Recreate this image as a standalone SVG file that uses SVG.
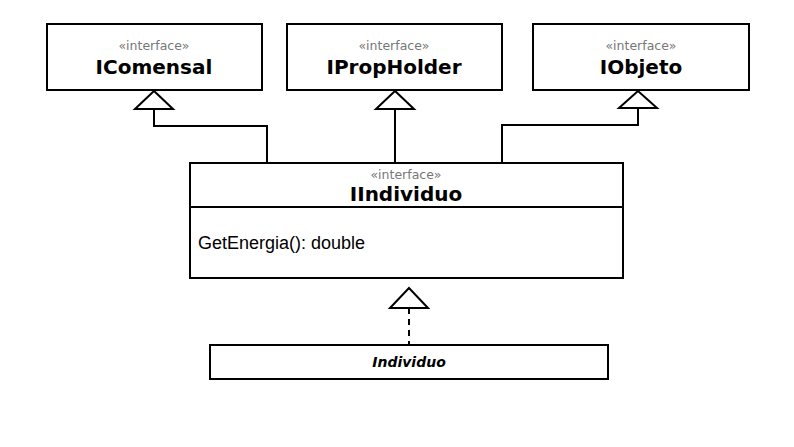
<svg xmlns="http://www.w3.org/2000/svg" width="794" height="447" viewBox="0 0 794 447">
<style>
.box{fill:#fff;stroke:#000;stroke-width:2}
.st{font-family:"DejaVu Sans",Verdana,sans-serif;font-size:12.5px;fill:#777;text-anchor:middle}
.nm{font-family:"DejaVu Sans",Verdana,sans-serif;font-size:20px;font-weight:bold;fill:#000;text-anchor:middle}
.ln{fill:none;stroke:#000;stroke-width:2}
.tri{fill:#fff;stroke:#000;stroke-width:2}
</style>
<rect width="794" height="447" fill="#fff"/>
<g id="connectors">
<polyline class="ln" points="154,109 154,126 267,126 267,163"/>
<line class="ln" x1="395" y1="109" x2="395" y2="163"/>
<polyline class="ln" points="638,108 638,125 502,125 502,163"/>
<polygon class="tri" points="154,91 135,109 173,109"/>
<polygon class="tri" points="395,91 376,109 414,109"/>
<polygon class="tri" points="638,91 619,108 657,108"/>
<line class="ln" x1="409" y1="308" x2="409" y2="345" stroke-dasharray="6,5"/>
<polygon class="tri" points="409,288 390,308 428,308"/>
</g>
<g id="IComensal">
<rect class="box" x="47" y="24" width="215" height="66"/>
<text class="st" x="154" y="50">«interface»</text>
<text class="nm" x="154" y="74">IComensal</text>
</g>
<g id="IPropHolder">
<rect class="box" x="287" y="24" width="215" height="66"/>
<text class="st" x="394" y="50">«interface»</text>
<text class="nm" x="394" y="74">IPropHolder</text>
</g>
<g id="IObjeto">
<rect class="box" x="533" y="24" width="216" height="66"/>
<text class="st" x="641" y="50">«interface»</text>
<text class="nm" x="641" y="74">IObjeto</text>
</g>
<g id="IIndividuo">
<rect class="box" x="190" y="163" width="433" height="115"/>
<line class="ln" x1="190" y1="207" x2="623" y2="207"/>
<text class="st" x="406" y="179">«interface»</text>
<text class="nm" x="406" y="201">IIndividuo</text>
<text x="198" y="249" font-family="'Liberation Sans',Arial,sans-serif" font-size="18" fill="#000">GetEnergia(): double</text>
</g>
<g id="Individuo">
<rect class="box" x="210" y="345" width="398" height="34"/>
<text x="409" y="367" font-family="'DejaVu Sans',Verdana,sans-serif" font-size="14" font-weight="bold" font-style="italic" text-anchor="middle" fill="#000">Individuo</text>
</g>
</svg>
